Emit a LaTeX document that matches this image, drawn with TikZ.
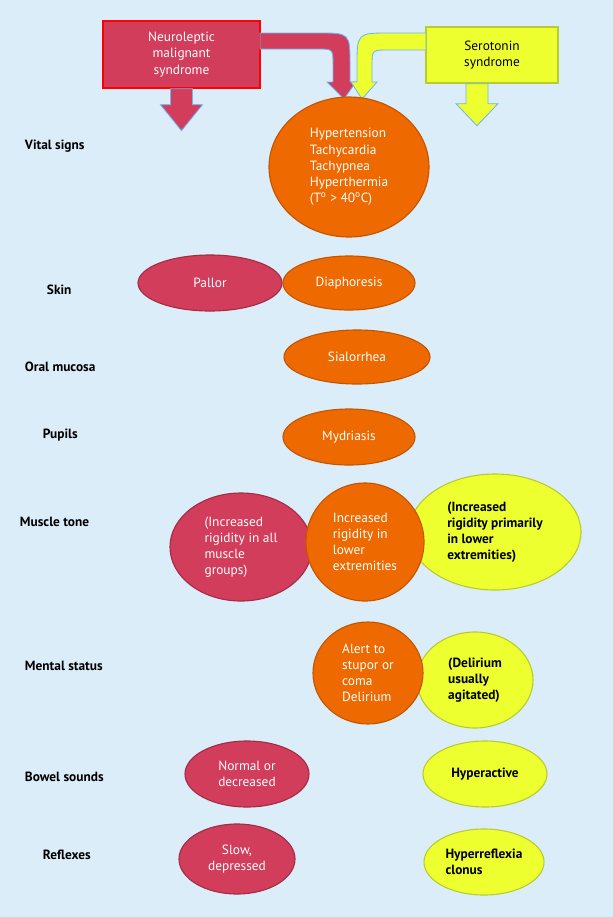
\documentclass[tikz,border=0pt]{standalone}
\usepackage{fontspec}
\setmainfont{PT Sans}
\usetikzlibrary{shapes.geometric}
\definecolor{bgblue}{HTML}{DCEDFA}
\definecolor{nmsred}{HTML}{D13D5B}
\definecolor{nmsedge}{HTML}{A52C45}
\definecolor{orng}{HTML}{EE6A00}
\definecolor{orngedge}{HTML}{C45500}
\definecolor{ssyel}{HTML}{EEFF30}
\definecolor{ssedge}{HTML}{B8CC30}
\definecolor{arrowedge}{HTML}{6FB4EE}
\tikzset{
  lbl/.style={anchor=west, font=\fontsize{9.5}{11}\selectfont\bfseries},
  blob/.style={ellipse, draw, line width=0.8pt, inner sep=0pt, align=center,
    font=\fontsize{9.5}{11.5}\selectfont},
  nms/.style={blob, fill=nmsred, draw=nmsedge, text=white},
  mid/.style={blob, fill=orng, draw=orngedge, text=white},
  ss/.style={blob, fill=ssyel, draw=ssedge, text=black, font=\fontsize{9.5}{11.5}\selectfont\bfseries},
}
\begin{document}
\begin{tikzpicture}[x=0.025cm, y=-0.025cm]
    % Background
    \fill[bgblue] (0,0) rectangle (613,917);
    \useasboundingbox (0,0) rectangle (613,917);

    % Header boxes
    \node[draw=red, line width=1pt, fill=nmsred, text=white, align=center,
      minimum width=157*0.025cm, minimum height=67*0.025cm,
      font=\fontsize{9.5}{11.5}\selectfont] at (181.5, 54.5) (nmsbox) {Neuroleptic\\malignant\\syndrome};
    \node[draw=ssedge, line width=1pt, fill=ssyel, align=center,
      minimum width=132*0.025cm, minimum height=56*0.025cm,
      font=\fontsize{9.5}{11.5}\selectfont] at (492, 55) (ssbox) {Serotonin\\syndrome};

    % Block arrows
    \filldraw[fill=nmsred, draw=arrowedge, line width=0.6pt]
      (nmsbox.south) ++(-11,0) -- ++(0,16) -- ++(-10,0) -- ++(21,26) -- ++(21,-26) -- ++(-10,0) -- ++(0,-16) -- cycle;
    \filldraw[fill=ssyel, draw=arrowedge, line width=0.6pt]
      (ssbox.south) ++(-26,0) -- ++(0,20) -- ++(-10,0) -- ++(21,22) -- ++(21,-22) -- ++(-10,0) -- ++(0,-20) -- cycle;
    \filldraw[fill=nmsred, draw=arrowedge, line width=0.6pt]
      (260,33) -- (318,33) .. controls (350,33) .. (350,65) -- (350,82) -- (356,82) -- (344,99)
      -- (327,82) -- (333,82) -- (333,65) .. controls (333,49) .. (317,49) -- (260,49) -- cycle;
    \filldraw[fill=ssyel, draw=arrowedge, line width=0.6pt]
      (426,33) -- (390,33) .. controls (357,33) .. (357,66) -- (357,82) -- (351,82) -- (362,99)
      -- (377,82) -- (372,82) -- (372,66) .. controls (372,50) .. (388,50) -- (426,50) -- cycle;

    % Row labels
    \node[lbl] at (20,146) (lvital) {Vital signs};
    \node[lbl] at (42,290) (lskin) {Skin};
    \node[lbl] at (20,367) (loral) {Oral mucosa};
    \node[lbl] at (38,435) (lpupil) {Pupils};
    \node[lbl] at (15,522) (lmuscle) {Muscle tone};
    \node[lbl] at (20,666) (lmental) {Mental status};
    \node[lbl] at (20,777) (lbowel) {Bowel sounds};
    \node[lbl] at (38,855) (lreflex) {Reflexes};

    % Findings
    \node[mid, align=left, minimum width=160*0.025cm, minimum height=140*0.025cm] at (349,167) (vital)
      {Hypertension\\Tachycardia\\Tachypnea\\Hyperthermia\\(T\textsuperscript{o} > 40\textsuperscript{o}C)};
    \node[nms, minimum width=144*0.025cm, minimum height=56*0.025cm] at (210,283) (pallor) {Pallor};
    \node[mid, minimum width=132*0.025cm, minimum height=54*0.025cm] at (349,283) (diaph) {Diaphoresis};
    \node[mid, minimum width=146*0.025cm, minimum height=54*0.025cm] at (357,357) (sial) {Sialorrhea};
    \node[mid, minimum width=132*0.025cm, minimum height=56*0.025cm] at (349,437) (mydr) {Mydriasis};

    \node[nms, align=left, minimum width=142*0.025cm, minimum height=108*0.025cm] at (241,547) (tonenms)
      {(Increased\\rigidity in all\\muscle\\groups)};
    \node[ss, align=left, minimum width=172*0.025cm, minimum height=116*0.025cm] at (495,532) (toness)
      {(Increased\\rigidity primarily\\in lower\\extremities)};
    \node[mid, align=left, minimum width=118*0.025cm, minimum height=118*0.025cm] at (365,542) (tonemid)
      {Increased\\rigidity in\\lower\\extremities};

    \node[ss, align=left, minimum width=116*0.025cm, minimum height=96*0.025cm] at (475,680) (mentss)
      {(Delirium\\usually\\agitated)};
    \node[mid, align=left, minimum width=110*0.025cm, minimum height=102*0.025cm] at (368,673) (mentmid)
      {Alert to\\stupor or\\coma\\Delirium};

    \node[nms, minimum width=124*0.025cm, minimum height=66*0.025cm] at (247,774) (bowelnms) {Normal or\\decreased};
    \node[ss, minimum width=124*0.025cm, minimum height=66*0.025cm] at (485,774) (bowelss) {Hyperactive};
    \node[nms, minimum width=116*0.025cm, minimum height=70*0.025cm] at (237,859) (reflexnms) {Slow,\\depressed};
    \node[ss, align=left, minimum width=120*0.025cm, minimum height=66*0.025cm] at (484,862) (reflexss) {Hyperreflexia\\clonus};
\end{tikzpicture}
\end{document}
